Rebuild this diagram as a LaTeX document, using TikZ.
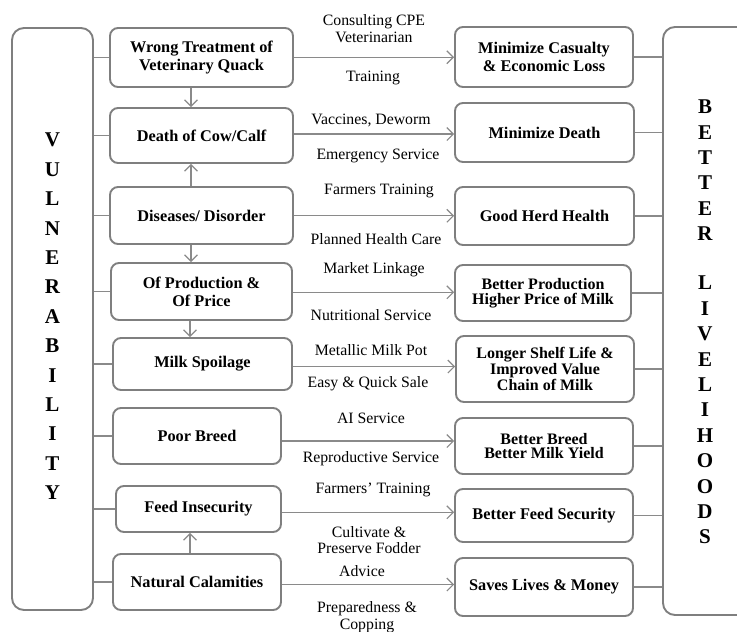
\documentclass[tikz,border=0pt]{standalone}
\usepackage{fontspec}
\setmainfont{Liberation Serif}
\usetikzlibrary{arrows.meta,calc}
\definecolor{framegray}{HTML}{7F7F7F}
\definecolor{linkgray}{HTML}{8A8A8A}

\tikzset{
  box/.style={draw=framegray, line width=1.9pt, rounded corners=8pt, align=center, inner sep=0pt, font=\bfseries\fontsize{16.3}{18}\selectfont},
  tight/.style={font=\bfseries\fontsize{16}{14.5}\selectfont},
  frame/.style={draw=framegray, line width=1.9pt, rounded corners=12pt},
  flow/.style={draw=linkgray, line width=1.1pt, -{Straight Barb[length=6.5pt,width=13pt]}},
  link/.style={draw=linkgray, line width=1.1pt},
  lbl/.style={align=center, inner sep=0pt, font=\fontsize{15.8}{17}\selectfont},
  bigletter/.style={font=\bfseries\fontsize{21}{21}\selectfont, inner sep=0pt},
}

\begin{document}
\begin{tikzpicture}[x=1pt, y=-1pt]
\useasboundingbox (0,0) rectangle (737,632);
%%%%% Frames %%%%%
\node[frame, minimum width=81pt, minimum height=582pt] (vul) at (52.5,319) {};
\node[frame, minimum width=97pt, minimum height=588pt] (liv) at (711.5,321) {};
\foreach \ch [count=\k from 0] in {V,U,L,N,E,R,A,B,I,L,I,T,Y}{
\node[bigletter] at (52.5,140+29.4*\k) {\ch};
}
\foreach \ch [count=\k from 0] in {B,E,T,T,E,R}{
\node[bigletter] at (705,107+25.3*\k) {\ch};
}
\foreach \ch [count=\k from 0] in {L,I,V,E,L,I,H,O,O,D,S}{
\node[bigletter] at (705,283+25.4*\k) {\ch};
}
%%%%% Causes %%%%%
\node[box, minimum width=183pt, minimum height=59pt] (c1) at (201.5,57.5) {Wrong Treatment of\\Veterinary Quack};
\node[box, minimum width=183pt, minimum height=55pt] (c2) at (201.5,135.5) {Death of Cow/Calf};
\node[box, minimum width=183pt, minimum height=57pt] (c3) at (201.5,215.5) {Diseases/ Disorder};
\node[box, minimum width=181pt, minimum height=57pt] (c4) at (201.5,291.5) {Of Production \&\\Of Price};
\node[box, minimum width=179pt, minimum height=52pt] (c5) at (202.5,364) {Milk Spoilage};
\node[box, minimum width=168pt, minimum height=56pt] (c6) at (197,436) {Poor Breed};
\node[box, minimum width=165pt, minimum height=46pt] (c7) at (198.5,509) {Feed Insecurity};
\node[box, minimum width=168pt, minimum height=56pt] (c8) at (197,582) {Natural Calamities};
%%%%% Results %%%%%
\node[box, minimum width=178pt, minimum height=60pt] (r1) at (544,57) {Minimize Casualty\\\& Economic Loss};
\node[box, minimum width=179pt, minimum height=59pt] (r2) at (544.5,132.5) {Minimize Death};
\node[box, minimum width=179pt, minimum height=58pt] (r3) at (544.5,216) {Good Herd Health};
\node[box, tight, minimum width=176pt, minimum height=56pt] (r4) at (543,293) {Better Production\\Higher Price of Milk};
\node[box, tight, minimum width=178pt, minimum height=66pt] (r5) at (545,369) {Longer Shelf Life \&\\Improved Value\\Chain of Milk};
\node[box, tight, minimum width=178pt, minimum height=56pt] (r6) at (544,446) {Better Breed\\Better Milk Yield};
\node[box, minimum width=178pt, minimum height=53pt] (r7) at (544,515.5) {Better Feed Security};
\node[box, minimum width=178pt, minimum height=58pt] (r8) at (544,587) {Saves Lives \& Money};
%%%%% Connectors %%%%%
\foreach \i in {1,...,8}{
\draw[link] (c\i.west) -- (c\i.west -| vul.east);
\draw[link] (r\i.east) -- (r\i.east -| liv.west);
\coordinate (m\i) at ($(c\i)!.5!(r\i)$);
\draw[flow] (c\i.east |- m\i) -- (r\i.west |- m\i);
}
\draw[flow] ([xshift=-10.5pt]c1.south) -- ([xshift=-10.5pt]c2.north);
\draw[flow] ([xshift=-10.5pt]c3.north) -- ([xshift=-10.5pt]c2.south);
\draw[flow] ([xshift=-10.5pt]c3.south) -- ([xshift=-10.5pt]c4.north);
\draw[flow] ([xshift=-11.5pt]c4.south) -- ([xshift=-12.5pt]c5.north);
\draw[flow] ([xshift=-7pt]c8.north) -- ([xshift=-8.5pt]c7.south);
%%%%% Labels %%%%%
\node[lbl] (t1a) at (374,28.5) {Consulting CPE\\Veterinarian};
\node[lbl] (t1b) at (373,78) {Training};
\node[lbl] (t2a) at (371,120) {Vaccines, Deworm};
\node[lbl] (t2b) at (378,156) {Emergency Service};
\node[lbl] (t3a) at (379,191) {Farmers Training};
\node[lbl] (t3b) at (376,239) {Planned Health Care};
\node[lbl] (t4a) at (374,270) {Market Linkage};
\node[lbl] (t4b) at (371,315) {Nutritional Service};
\node[lbl] (t5a) at (371,350) {Metallic Milk Pot};
\node[lbl] (t5b) at (368,384) {Easy \& Quick Sale};
\node[lbl] (t6a) at (371,418) {AI Service};
\node[lbl] (t6b) at (371,459) {Reproductive Service};
\node[lbl] (t7a) at (373,490) {Farmers' Training};
\node[lbl, font=\fontsize{15.8}{15.5}\selectfont] (t7b) at (369,540) {Cultivate \&\\Preserve Fodder};
\node[lbl] (t8a) at (362,571) {Advice};
\node[lbl] (t8b) at (367,617) {Preparedness \&\\Copping};
\end{tikzpicture}
\end{document}
